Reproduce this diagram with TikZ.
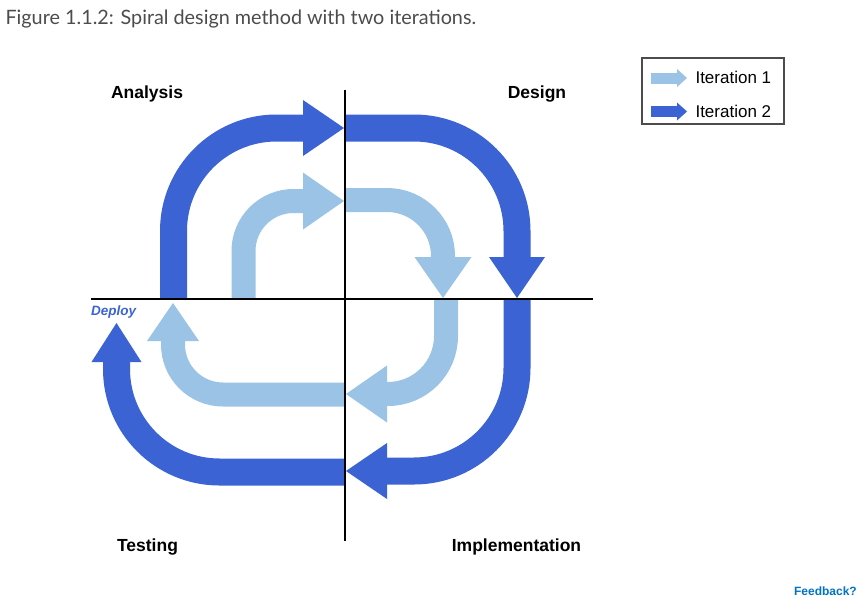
\documentclass[tikz,border=0pt]{standalone}
\usepackage{fontspec}
\setmainfont{Liberation Sans}
\newfontfamily\captionfont{Lato}
\usetikzlibrary{arrows.meta}
\definecolor{lightloop}{RGB}{155,195,230}
\definecolor{darkloop}{RGB}{59,99,211}
\definecolor{feedblue}{RGB}{0,115,198}
\tikzset{
	first loop/.style={draw=lightloop,line width=24pt,rounded corners=#1pt,
		-{Triangle[length=41pt,width=57pt,line width=0pt]}},
	second loop/.style={draw=darkloop,line width=27pt,rounded corners=#1pt,
		-{Triangle[length=41pt,width=56pt,line width=0pt]}},
	phase/.style={font=\fontsize{17.5}{21}\selectfont\bfseries},
	legend text/.style={anchor=west,font=\fontsize{17}{20}\selectfont}
}
\begin{document}
\begin{tikzpicture}[x=1pt,y=-1pt]
	\useasboundingbox (0,0) rectangle (858,597);
	\clip (0,0) rectangle (858,597);
	\node[anchor=west,text=black!70,font=\captionfont\fontsize{19.8}{24}\selectfont] (caption) at (2,19) {Figure 1.1.2: Spiral design method with two iterations.};
	% iteration 1
		\draw[first loop=50] (243.5,299) |- (344,201);
		\draw[first loop=56] (345,200) -| (443,298);
		\draw[first loop=58] (446,299) |- (346,394);
		\draw[first loop=50,-{Triangle[length=38pt,width=52pt,line width=0pt]}] (345,394.5) -| (173,303);
	% iteration 2
		\draw[second loop=103] (173.5,299) |- (344,128);
		\draw[second loop=103] (345,128) -| (517,298);
		\draw[second loop=103] (517,299) |- (346,471);
		\draw[second loop=103,-{Triangle[length=39pt,width=50pt,line width=0pt]}] (345,472) -| (116.5,323);
	% axes
		\draw[line width=2.8pt] (91,299) -- (593,299);
		\draw[line width=2.8pt] (345,90) -- (345,541);
	% phases
		\node[phase] (analysis) at (147,94) {Analysis};
		\node[phase] (design) at (537,94) {Design};
		\node[phase] (testing) at (147.5,547) {Testing};
		\node[phase] (implementation) at (516.5,547) {Implementation};
		\node[anchor=west,inner sep=0pt,text=darkloop,font=\fontsize{13.5}{16}\selectfont\bfseries\itshape] (deploy) at (91,312) {Deploy};
	% legend
		\draw[line width=1.2pt,black!70] (642,58) rectangle (784,124);
		\draw[draw=lightloop,line width=11pt,-{Triangle[length=10pt,width=18pt,line width=0pt]}] (651,78) -- (687,78);
		\draw[draw=darkloop,line width=11pt,-{Triangle[length=10pt,width=18pt,line width=0pt]}] (651,111.5) -- (687,111.5);
		\node[legend text] (iterone) at (692,77) {Iteration 1};
		\node[legend text] (itertwo) at (692,111) {Iteration 2};
	% feedback link
		\node[anchor=base east,inner sep=0pt,text=feedblue,font=\fontsize{12}{14}\selectfont\bfseries] (feedback) at (857,595) {Feedback?};
\end{tikzpicture}
\end{document}
